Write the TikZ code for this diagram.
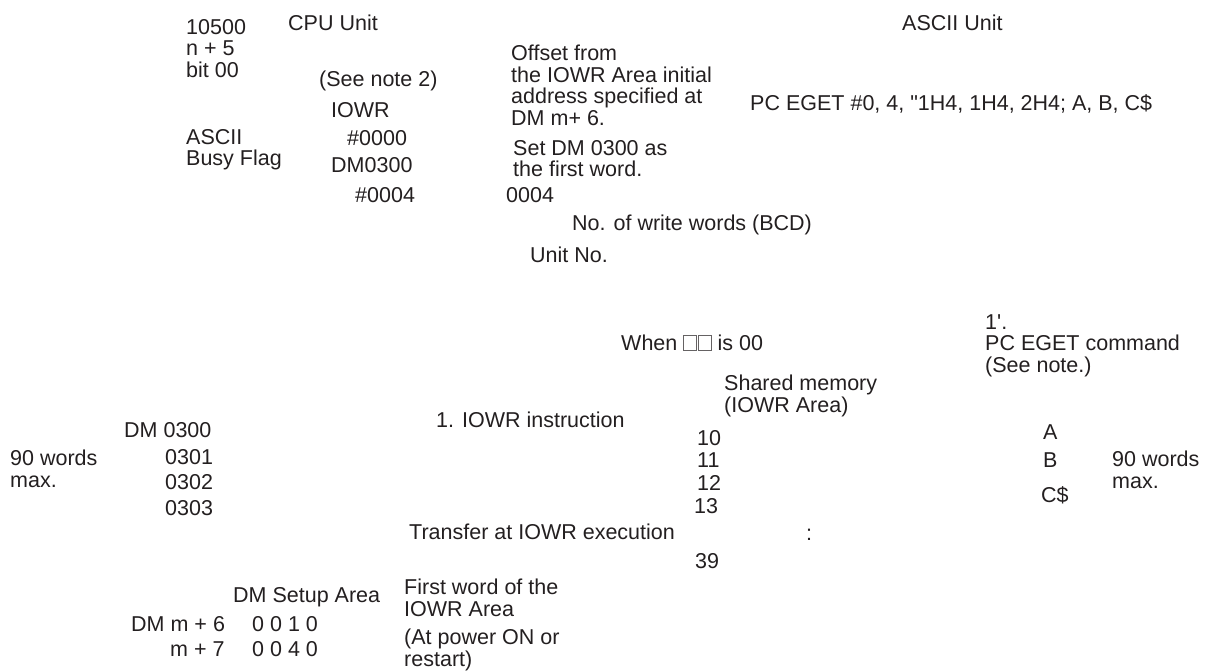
\documentclass[tikz,border=0pt]{standalone}
\usepackage{fontspec}
\setmainfont{Liberation Sans}[Ligatures=TeXOff]
\usepackage{tikz}
\definecolor{ink}{HTML}{231F20}
\newcommand{\emptysq}{\textcolor{ink!70}{\fboxsep=0pt\fboxrule=0.6pt\fbox{\rule{0pt}{14pt}\rule{12.5pt}{0pt}}}}
\tikzstyle{lbl} = [anchor=base west, inner sep=0pt, text=ink, font={\fontsize{21.5}{21.5}\selectfont\lineskiplimit=-100pt\relax}]
\tikzstyle{blk} = [lbl, anchor=north west, align=left]

\begin{document}
\begin{tikzpicture}[x=1pt, y=-1pt]
    \useasboundingbox (0,0) rectangle (1209,670);

    % CPU side, ladder
    \node (cpu) [lbl] at (288,30) {CPU Unit};
    \node (bit) [blk] at (186,19) {10500\\n + 5\\bit 00};
    \node (busy) [blk] at (186,129) {ASCII\\Busy Flag};
    \node (note2) [lbl] at (319,86.5) {(See note 2)};
    \node (iowr) [lbl] at (331,117.5) {IOWR};
    \node (op1) [lbl] at (347,145.5) {\#0000};
    \node (op2) [lbl] at (331,172.5) {DM0300};
    \node (op3) [lbl] at (355,202.5) {\#0004};

    % Operand notes
    \node (offset) [blk] at (511,45) {Offset from\\the IOWR Area initial\\address specified at\\DM m+ 6.};
    \node (first) [blk] at (513,140) {Set DM 0300 as\\the first word.};
    \node (nwords) [lbl] at (506,202.5) {0004};
    \node (bcd) [lbl] at (572,230.5) {No. of write words (BCD)};
    \node (unitno) [lbl] at (530,262.5) {Unit No.};

    % ASCII side
    \node (asc) [lbl] at (902,30.5) {ASCII Unit};
    \node (eget) [lbl] at (750,110) {PC EGET \#0, 4, "1H4, 1H4, 2H4; A, B, C\$};
    \node (when) [lbl] at (621,350) {When \emptysq\hspace{1pt}\emptysq{} is 00};
    \node (egetcmd) [blk] at (985,314) {1'.\\PC EGET command\\(See note.)};

    % CPU data memory
    \node (dm300) [lbl] at (124,437.5) {DM 0300};
    \node (dm301) [lbl] at (165,464.5) {0301};
    \node (dm302) [lbl] at (165,489.5) {0302};
    \node (dm303) [lbl] at (165,515.5) {0303};
    \node (maxl) [blk] at (10,450) {90 words\\max.};

    % Transfer
    \node (instr) [lbl] at (436,427.5) {1. IOWR instruction};
    \node (xfer) [lbl] at (409,539.5) {Transfer at IOWR execution};

    % Shared memory
    \node (shared) [blk] at (724,375) {Shared memory\\(IOWR Area)};
    \node (w10) [lbl] at (697,445.5) {10};
    \node (w11) [lbl] at (697,467.5) {11};
    \node (w12) [lbl] at (697,490.5) {12};
    \node (w13) [lbl] at (694,513.5) {13};
    \node (dots) [lbl] at (806,540) {:};
    \node (w39) [lbl] at (695,568.5) {39};

    % BASIC variables
    \node (va) [lbl] at (1043,439) {A};
    \node (vb) [lbl] at (1043,467.5) {B};
    \node (vc) [lbl] at (1041,502) {C\$};
    \node (maxr) [blk] at (1112,451) {90 words\\max.};

    % DM Setup Area
    \node (setup) [lbl] at (233,602.5) {DM Setup Area};
    \node (m6) [lbl] at (131,631) {DM m + 6};
    \node (m6v) [lbl] at (252,631) {0 0 1 0};
    \node (m7) [lbl] at (170,656) {m + 7};
    \node (m7v) [lbl] at (252,656) {0 0 4 0};
    \node (firstw) [blk] at (404,579) {First word of the\\IOWR Area};
    \node (power) [blk] at (404,629) {(At power ON or\\restart)};
\end{tikzpicture}
\end{document}
